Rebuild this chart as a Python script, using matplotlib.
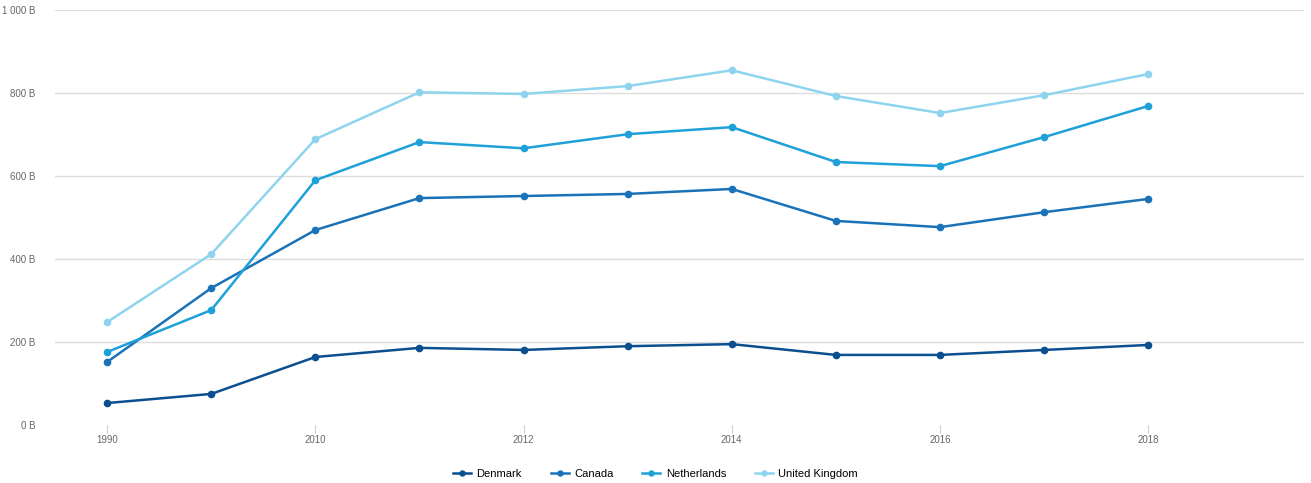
import matplotlib
matplotlib.use('Agg')
import matplotlib.pyplot as plt

years = ['1990', '2000', '2010', '2011', '2012', '2013', '2014', '2015', '2016', '2017', '2018']
denmark = [53, 75, 164, 186, 181, 190, 195, 169, 169, 181, 193]
canada = [152, 330, 470, 547, 552, 557, 569, 492, 477, 513, 545]
netherlands = [176, 277, 590, 682, 667, 701, 718, 634, 624, 694, 769]
uk = [248, 412, 689, 802, 798, 817, 855, 793, 752, 795, 846]

series = [('Denmark', denmark, '#0b4f8f'),
          ('Canada', canada, '#1a73b8'),
          ('Netherlands', netherlands, '#1ea0d8'),
          ('United Kingdom', uk, '#8fd4ee')]

plt.rcParams['font.family'] = ['Liberation Sans', 'DejaVu Sans']

fig = plt.figure(figsize=(13.11, 4.83), dpi=100)
ax = fig.add_axes([0.042, 0.12, 0.953, 0.859])

x = list(range(len(years)))
for name, vals, col in series:
    ax.plot(x, vals, color=col, lw=1.8, marker='o', ms=4.5, label=name)

ax.set_xlim(-0.5, 11.5)
ax.set_ylim(0, 1000)
ax.set_yticks([0, 200, 400, 600, 800, 1000])
ax.set_yticklabels(['0 B', '200 B', '400 B', '600 B', '800 B', '1 000 B'])
ax.grid(axis='y', color='#dddddd', lw=1)
ax.get_ygridlines()[0].set_visible(False)
ax.set_axisbelow(True)

xt = x[0:1] + x[2::2]
ax.set_xticks(xt)
ax.set_xticklabels([years[i] for i in xt])

for s in ax.spines.values():
    s.set_visible(False)
ax.tick_params(axis='y', length=0, labelsize=7, labelcolor='#666666', pad=14)
ax.tick_params(axis='x', length=6, color='#cccccc', labelsize=7, labelcolor='#666666', pad=1)

fig.legend(loc='lower center', ncol=4, frameon=False, fontsize=8,
           bbox_to_anchor=(0.5, -0.012), handlelength=1.6, markerscale=0.8,
           handletextpad=0.5, columnspacing=2.6)

fig.savefig('out.png', dpi=100)
